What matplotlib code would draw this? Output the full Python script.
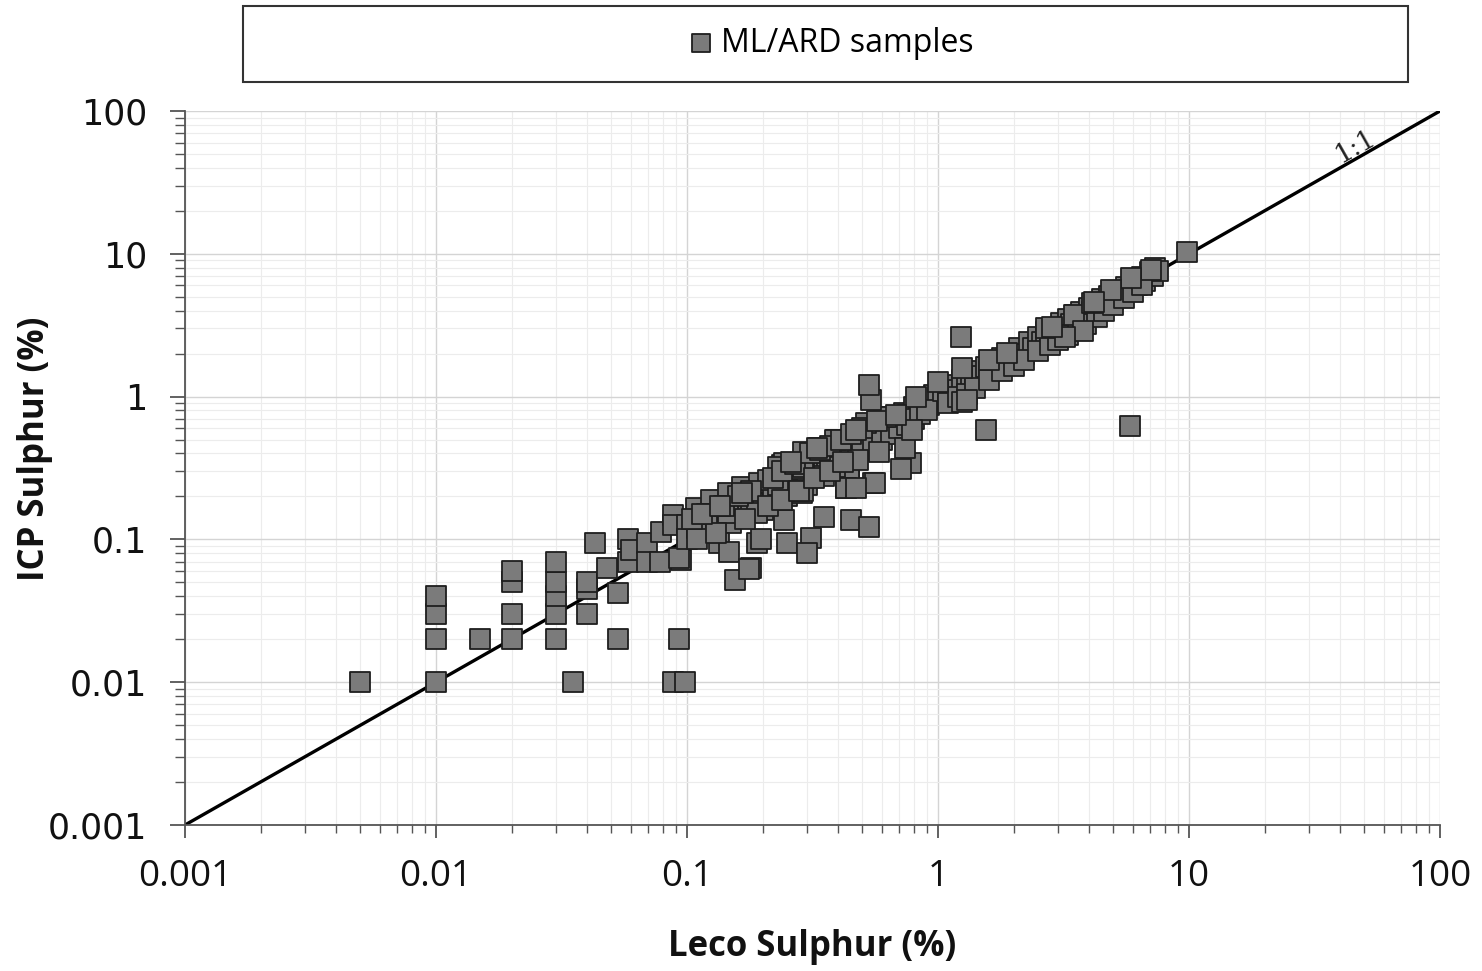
import matplotlib
matplotlib.use("Agg")
import matplotlib.pyplot as plt
from matplotlib.patches import Rectangle
from matplotlib.ticker import FixedLocator, FixedFormatter, LogLocator, NullFormatter
import numpy as np

# ---------------- data ----------------
# low-level samples (Leco %, ICP %)
leco_low = [0.005, 0.01, 0.01, 0.01, 0.01, 0.015, 0.02, 0.02, 0.02, 0.02,
            0.03, 0.03, 0.03, 0.03, 0.03, 0.035, 0.04, 0.04, 0.04, 0.043,
            0.053, 0.053, 0.048, 0.058, 0.058, 0.06, 0.069, 0.069, 0.078, 0.079,
            0.088, 0.088, 0.088, 0.098, 0.093, 0.095, 0.1, 0.093]
icp_low = [0.01, 0.01, 0.02, 0.03, 0.04, 0.02, 0.02, 0.03, 0.05, 0.06,
           0.02, 0.03, 0.04, 0.05, 0.07, 0.01, 0.03, 0.045, 0.05, 0.094,
           0.02, 0.042, 0.063, 0.07, 0.1, 0.084, 0.094, 0.07, 0.07, 0.113,
           0.01, 0.148, 0.127, 0.01, 0.02, 0.072, 0.127, 0.074]

# 0.1 - 1 % band
leco_mid = [0.10, 0.11, 0.12, 0.13, 0.14, 0.15, 0.16, 0.17, 0.18, 0.19,
            0.20, 0.21, 0.22, 0.23, 0.25, 0.26, 0.27, 0.28, 0.30, 0.31,
            0.33, 0.35, 0.36, 0.38, 0.40, 0.42, 0.44, 0.46, 0.48, 0.50,
            0.52, 0.55, 0.58, 0.60, 0.63, 0.66, 0.70, 0.73, 0.76, 0.80,
            0.84, 0.88, 0.92, 0.96, 1.00,
            0.15, 0.20, 0.25, 0.30, 0.35, 0.40, 0.45, 0.50, 0.55, 0.60,
            0.65, 0.70, 0.75, 0.80, 0.85, 0.90,
            0.109, 0.11, 0.125, 0.145, 0.145, 0.134, 0.147, 0.166, 0.19, 0.194,
            0.18, 0.19, 0.24, 0.244, 0.25, 0.22, 0.155, 0.177, 0.198, 0.313,
            0.30, 0.288, 0.28, 0.352, 0.394, 0.431, 0.45, 0.518, 0.53, 0.55,
            0.611, 0.782, 0.71, 0.62, 0.39, 0.335, 0.29, 0.244, 0.21, 0.29,
            0.44, 0.44, 0.56, 0.74, 0.79, 0.43, 0.58, 0.48, 0.39, 0.29,
            0.23, 0.23, 0.47, 0.82,
            0.12, 0.14, 0.16, 0.18, 0.22, 0.24, 0.27, 0.31, 0.34, 0.37,
            0.41, 0.45, 0.50, 0.13, 0.17, 0.21, 0.24, 0.28, 0.32, 0.37,
            0.42, 0.105, 0.115, 0.135, 0.165, 0.26, 0.33, 0.47, 0.57, 0.68]
icp_mid = [0.10, 0.12, 0.13, 0.14, 0.15, 0.17, 0.16, 0.19, 0.17, 0.21,
           0.19, 0.23, 0.21, 0.25, 0.24, 0.28, 0.26, 0.31, 0.29, 0.34,
           0.32, 0.37, 0.34, 0.41, 0.38, 0.45, 0.42, 0.50, 0.46, 0.55,
           0.50, 0.58, 0.56, 0.64, 0.60, 0.70, 0.67, 0.77, 0.74, 0.85,
           0.80, 0.92, 0.88, 1.02, 0.97,
           0.13, 0.16, 0.20, 0.24, 0.28, 0.33, 0.37, 0.42, 0.45, 0.50,
           0.55, 0.60, 0.63, 0.70, 0.75, 0.80,
           0.166, 0.10, 0.189, 0.153, 0.21, 0.094, 0.082, 0.233, 0.153, 0.248,
           0.063, 0.094, 0.33, 0.137, 0.094, 0.22, 0.052, 0.062, 0.10, 0.102,
           0.08, 0.211, 0.31, 0.144, 0.497, 0.229, 0.137, 0.653, 0.122, 0.25,
           0.72, 0.343, 0.31, 0.72, 0.50, 0.44, 0.41, 0.343, 0.26, 0.22,
           0.26, 0.29, 0.25, 0.44, 0.58, 0.23, 0.41, 0.36, 0.32, 0.32,
           0.32, 0.24, 0.23, 0.99,
           0.15, 0.17, 0.20, 0.22, 0.27, 0.30, 0.34, 0.40, 0.42, 0.45,
           0.50, 0.55, 0.60, 0.11, 0.14, 0.17, 0.19, 0.22, 0.27, 0.30,
           0.35, 0.14, 0.15, 0.17, 0.21, 0.35, 0.44, 0.58, 0.68, 0.74]

# 1 - 10 % band
leco_high = [1.05, 1.10, 1.15, 1.20, 1.25, 1.30, 1.35, 1.40, 1.45, 1.50,
             1.55, 1.60, 1.70, 1.75, 1.80, 1.90, 1.95, 2.00, 2.10, 2.20,
             2.30, 2.40, 2.50, 2.60, 2.70, 2.80, 2.90, 3.00, 3.10, 3.20,
             3.30, 3.40, 3.50, 3.60, 3.70, 3.80, 4.00, 4.10, 4.20, 4.40,
             4.50, 4.70, 4.80, 5.00, 5.20, 5.40, 5.60, 5.80, 6.00, 6.20,
             6.50, 6.70, 7.00, 7.20, 7.30, 7.50,
             1.10, 1.20, 1.30, 1.40, 1.60, 1.80, 2.00, 2.20, 2.50, 2.80,
             3.00, 3.30, 3.60, 3.90, 4.30, 4.60, 5.00, 5.50, 6.00, 6.50,
             1.0, 1.25, 1.6, 1.89, 2.69, 3.48, 3.77, 4.1, 1.25, 3.2,
             7.06, 5.88, 4.9, 4.19, 2.84, 1.3, 0.54, 0.53]
icp_high = [1.10, 1.05, 1.20, 1.12, 1.30, 1.22, 1.40, 1.30, 1.50, 1.40,
            1.60, 1.50, 1.75, 1.60, 1.85, 1.75, 2.00, 1.85, 2.20, 2.00,
            2.40, 2.20, 2.60, 2.40, 2.85, 2.60, 3.00, 2.75, 3.30, 3.00,
            3.50, 3.20, 3.70, 3.40, 3.90, 3.60, 4.20, 3.90, 4.50, 4.20,
            4.80, 4.50, 5.10, 4.80, 5.50, 5.20, 5.90, 5.60, 6.40, 6.00,
            6.90, 6.50, 7.50, 7.00, 7.90, 7.60,
            0.90, 1.00, 1.05, 1.15, 1.30, 1.50, 1.65, 1.80, 2.10, 2.30,
            2.50, 2.70, 3.00, 3.20, 3.60, 4.00, 4.40, 4.90, 5.40, 6.00,
            1.26, 1.58, 1.80, 2.02, 3.02, 3.72, 2.86, 4.50, 0.92, 2.60,
            7.70, 6.76, 5.57, 4.60, 3.06, 0.95, 0.94, 1.20]

# isolated outliers
leco_out = [1.23, 1.55, 5.8, 9.8]
icp_out = [2.6, 0.58, 0.62, 10.3]

leco = leco_low + leco_mid + leco_high + leco_out
icp = icp_low + icp_mid + icp_high + icp_out

line_x = [0.001, 100]
line_y = [0.001, 100]
tick_vals = [0.001, 0.01, 0.1, 1, 10, 100]
tick_labels = ["0.001", "0.01", "0.1", "1", "10", "100"]

# ---------------- figure ----------------
W, H = 1482, 971
fig = plt.figure(figsize=(W / 100, H / 100), dpi=100)
fig.patch.set_facecolor("white")
L, R, T, B = 185, 1440, 111, 825
ax = fig.add_axes([L / W, 1 - B / H, (R - L) / W, (B - T) / H])

ax.set_xscale("log")
ax.set_yscale("log")
ax.set_xlim(0.001, 100)
ax.set_ylim(0.001, 100)

ax.grid(True, which="major", color="#d4d4d4", linewidth=1.0, zorder=0)
ax.grid(True, which="minor", color="#ececec", linewidth=0.8, zorder=0)
ax.set_axisbelow(True)

ax.plot(line_x, line_y, color="black", linewidth=2.4, zorder=2,
        solid_capstyle="butt")
sc = ax.scatter(leco, icp, marker="s", s=200, facecolor="#7b7b7b",
                edgecolor="#1e1e1e", linewidth=1.3, zorder=3,
                label="ML/ARD samples")

ax.text(46, 57, "1:1", rotation=29.6, rotation_mode="anchor",
        ha="center", va="center", fontsize=19, family="DejaVu Serif",
        color="#222222")

for sp in ["top", "right"]:
    ax.spines[sp].set_visible(False)
for sp in ["left", "bottom"]:
    ax.spines[sp].set_color("#555555")
    ax.spines[sp].set_linewidth(1.3)

ax.xaxis.set_major_locator(FixedLocator(tick_vals))
ax.yaxis.set_major_locator(FixedLocator(tick_vals))
ax.xaxis.set_major_formatter(FixedFormatter(tick_labels))
ax.yaxis.set_major_formatter(FixedFormatter(tick_labels))
ax.xaxis.set_minor_locator(LogLocator(base=10, subs=np.arange(2, 10), numticks=20))
ax.yaxis.set_minor_locator(LogLocator(base=10, subs=np.arange(2, 10), numticks=20))
ax.xaxis.set_minor_formatter(NullFormatter())
ax.yaxis.set_minor_formatter(NullFormatter())

ax.tick_params(axis="x", which="major", direction="out", length=9.5, width=1.3,
               color="#555555", pad=15, labelsize=26.5, labelcolor="#111111")
ax.tick_params(axis="x", which="minor", direction="out", length=6, width=1.0,
               color="#555555")
ax.tick_params(axis="y", which="major", direction="out", length=11, width=1.3,
               color="#555555", pad=16, labelsize=25, labelcolor="#111111")
ax.tick_params(axis="y", which="minor", direction="out", length=7, width=1.0,
               color="#555555")
for lab in ax.get_xticklabels():
    lab.set_family("Open Sans")
for lab in ax.get_yticklabels():
    lab.set_family("DejaVu Sans")

ax.set_xlabel("Leco Sulphur (%)", fontsize=25, fontweight="bold",
              family="Open Sans", color="#111111", va="center")
ax.xaxis.set_label_coords(0.5, -(947 - B) / (B - T))
ax.set_ylabel("ICP Sulphur (%)", fontsize=25, fontweight="bold",
              family="Open Sans", color="#111111", va="center")
ax.yaxis.set_label_coords((35 - L) / (R - L), (B - 449) / (B - T))

# legend box
rect = Rectangle((243 / W, 1 - 82 / H), (1408 - 243) / W, (82 - 6) / H,
                 transform=fig.transFigure, facecolor="white",
                 edgecolor="#333333", linewidth=1.5, zorder=0)
fig.patches.append(rect)
fig.legend(handles=[sc], loc="center", bbox_to_anchor=(831 / W, 1 - 43 / H),
           frameon=False, markerscale=0.95, handletextpad=0.2,
           handlelength=0.8, prop={"family": "Open Sans", "size": 23})

fig.savefig("out.png", dpi=100)
